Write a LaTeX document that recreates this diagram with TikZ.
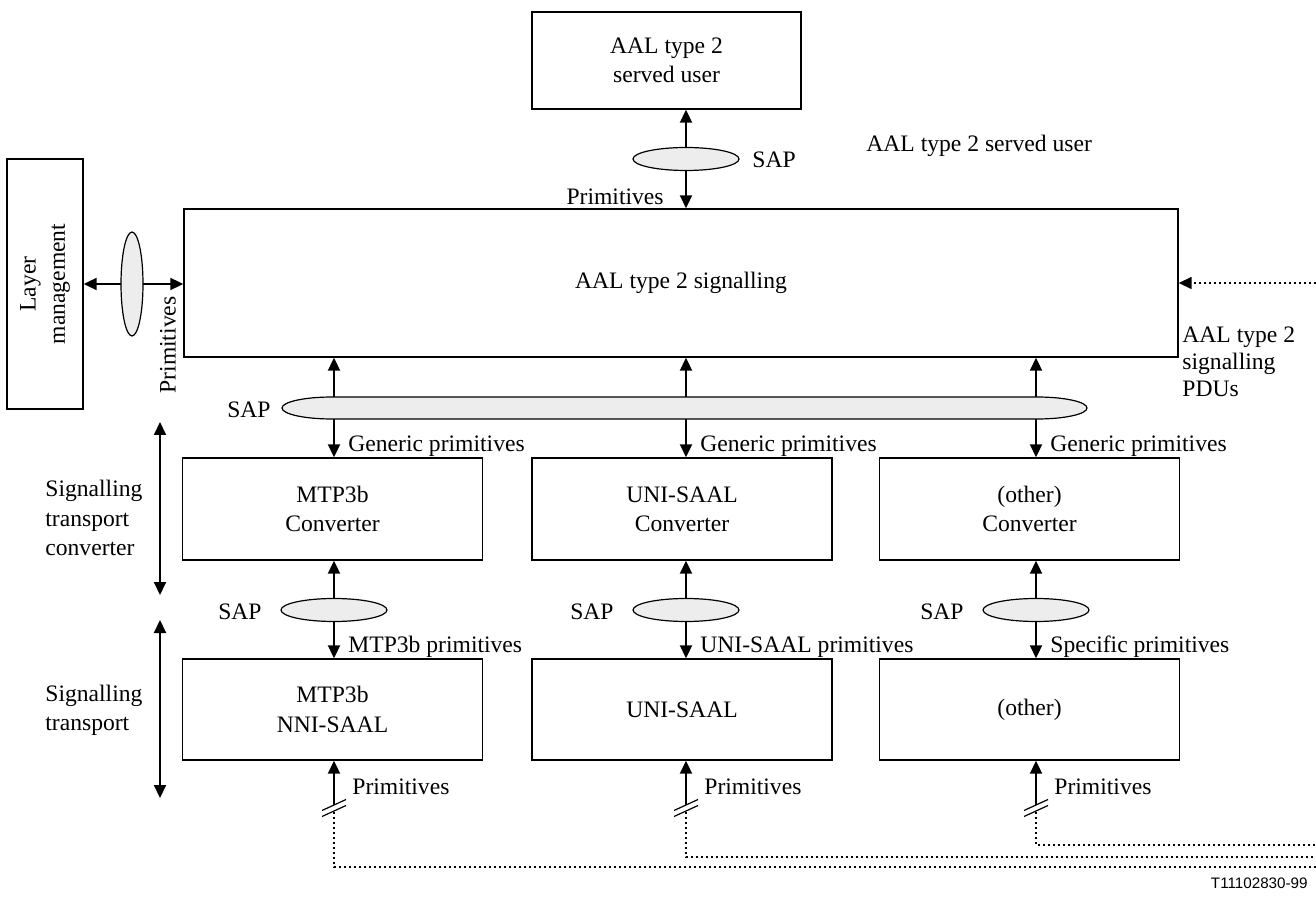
\documentclass[tikz,border=0pt]{standalone}
\usepackage{fontspec}
\setmainfont{Liberation Serif}
\newfontfamily\tagfont{Liberation Sans}
\usetikzlibrary{shapes.geometric,arrows.meta}

\begin{document}
\begin{tikzpicture}[x=0.5pt,y=-0.5pt,
  font=\fontsize{11.8}{14.6}\selectfont,
  blk/.style={draw,line width=0.7pt,align=center,inner sep=0pt},
  sap/.style={ellipse,draw,line width=0.6pt,fill=black!7,inner sep=0pt,minimum width=53pt,minimum height=11.5pt},
  dbl/.style={{Triangle[width=6pt,length=6.5pt]}-{Triangle[width=6pt,length=6.5pt]},line width=1pt},
  up/.style={-{Triangle[width=6pt,length=6.5pt]},line width=1pt},
  dots/.style={line width=0.8pt,dash pattern=on 1.2pt off 1.3pt},
  txt/.style={inner sep=0pt}]
\useasboundingbox (0,0) rectangle (1316,897);

\coordinate (c1) at (334,0);
\coordinate (c2) at (686,0);
\coordinate (c3) at (1036,0);

% blocks
\node[blk,minimum width=134.5pt,minimum height=48.5pt] (user) at (666.5,60.5) {AAL type 2\\served user};
\node[blk,minimum width=497pt,minimum height=74pt] (sig) at (681,283) {AAL type 2 signalling};
\node[blk,rotate=90,minimum width=125pt,minimum height=38pt] (lm) at (45,284) {Layer\\management};
\node[blk,minimum width=150pt,minimum height=51pt] (conv1) at (332.5,509) {MTP3b\\Converter};
\node[blk,minimum width=150pt,minimum height=51pt] (conv2) at (682,509) {UNI-SAAL\\Converter};
\node[blk,minimum width=150pt,minimum height=51pt] (conv3) at (1029.5,509) {(other)\\Converter};
\node[blk,minimum width=150pt,minimum height=50.5pt] (tr1) at (332.5,709.5) {MTP3b\\NNI-SAAL};
\node[blk,minimum width=150pt,minimum height=50.5pt] (tr2) at (682,709.5) {UNI-SAAL};
\node[blk,minimum width=150pt,minimum height=50.5pt] (tr3) at (1029.5,709.5) {(other)};

% served user SAP
\draw[dbl] (user.south -| c2) -- (sig.north -| c2);
\node[sap] (sapu) at (686,159) {};
\node[txt,anchor=west] at (752,160) {SAP};
\node[txt,anchor=east] at (664,197) {Primitives};
\node[txt,anchor=west] at (866,146) {AAL type 2 served user};

% layer management
\draw[dbl] (lm.south) -- (sig.west |- lm.south);
\node[sap,minimum width=11pt,minimum height=52pt] (saplm) at (132,284) {};
\node[txt,rotate=90] at (168,345) {Primitives};

% signalling PDUs
\coordinate (pdu) at (1316,283);
\draw[dots,-{Triangle[width=6pt,length=6.5pt]}] (pdu) -- (sig.east);
\node[txt,anchor=west,align=left,font=\fontsize{11.8}{13.6}\selectfont] at (1182,362) {AAL type 2\\signalling\\PDUs};

% generic SAP
\draw[dbl] (sig.south -| c1) -- (conv1.north -| c1);
\draw[dbl] (sig.south -| c2) -- (conv2.north -| c2);
\draw[dbl] (sig.south -| c3) -- (conv3.north -| c3);
\draw[line width=0.6pt,fill=black!7] (332,397) -- (1037,397)
  arc[start angle=90,end angle=-90,x radius=25pt,y radius=5.5pt] -- (332,419)
  arc[start angle=270,end angle=90,x radius=25pt,y radius=5.5pt] -- cycle;
\node[txt,anchor=east] at (271,410) {SAP};
\node[txt,anchor=west] at (348,446) {Generic primitives};
\node[txt,anchor=west] at (700,446) {Generic primitives};
\node[txt,anchor=west] at (1050,446) {Generic primitives};

% specific SAPs
\draw[dbl] (conv1.south -| c1) -- (tr1.north -| c1);
\draw[dbl] (conv2.south -| c2) -- (tr2.north -| c2);
\draw[dbl] (conv3.south -| c3) -- (tr3.north -| c3);
\node[sap] (sap1) at (334,610) {};
\node[sap] (sap2) at (686,610) {};
\node[sap] (sap3) at (1036,610) {};
\node[txt,anchor=east] at (262,612) {SAP};
\node[txt,anchor=east] at (614,612) {SAP};
\node[txt,anchor=east] at (964,612) {SAP};
\node[txt,anchor=west] at (348,647) {MTP3b primitives};
\node[txt,anchor=west] at (700,647) {UNI-SAAL primitives};
\node[txt,anchor=west] at (1050,647) {Specific primitives};

% layer labels
\coordinate (la1) at (160,422);
\coordinate (la2) at (160,595);
\coordinate (lb1) at (160,620);
\coordinate (lb2) at (160,798);
\draw[dbl] (la1) -- (la2);
\draw[dbl] (lb1) -- (lb2);
\node[txt,anchor=west,align=left] at (45,518) {Signalling\\transport\\converter};
\node[txt,anchor=west,align=left] at (45,710) {Signalling\\transport};

% physical links
\coordinate (s1) at (334,805);
\coordinate (s2) at (686,805);
\coordinate (s3) at (1036,805);
\draw[up] (s1) -- (tr1.south -| c1);
\draw[up] (s2) -- (tr2.south -| c2);
\draw[up] (s3) -- (tr3.south -| c3);
\draw[line width=0.6pt] (322,810.5) -- (346,799.5) (322,816.5) -- (346,805.5);
\draw[line width=0.6pt] (674,810.5) -- (698,799.5) (674,816.5) -- (698,805.5);
\draw[line width=0.6pt] (1024,810.5) -- (1048,799.5) (1024,816.5) -- (1048,805.5);
\coordinate (e1) at (1316,867);
\coordinate (e2) at (1316,857);
\coordinate (e3) at (1316,845);
\draw[dots] (334,812) -- (334,867) -- (e1);
\draw[dots] (686,812) -- (686,857) -- (e2);
\draw[dots] (1036,812) -- (1036,845) -- (e3);
\node[txt,anchor=west] at (352,787) {Primitives};
\node[txt,anchor=west] at (704,787) {Primitives};
\node[txt,anchor=west] at (1054,787) {Primitives};

\node[txt,anchor=east,font=\tagfont\fontsize{7.6}{9}\selectfont] at (1308,883) {T11102830-99};
\end{tikzpicture}
\end{document}
